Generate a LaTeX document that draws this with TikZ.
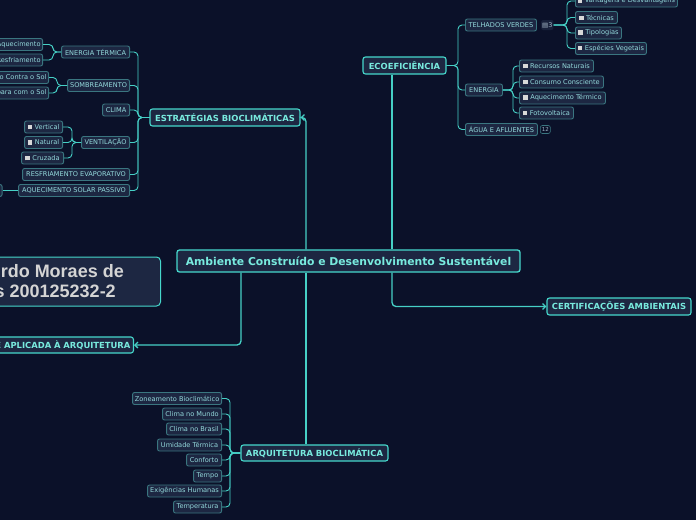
\documentclass[tikz,border=0pt]{standalone}
\usepackage{fontspec}
\setmainfont{DejaVu Sans}
\newfontfamily\authorfont{Liberation Sans}
\usetikzlibrary{arrows.meta,calc}
\definecolor{bg}{HTML}{0B1129}
\definecolor{nfill}{HTML}{1D2742}
\definecolor{mainline}{HTML}{46D8CC}
\definecolor{maintext}{HTML}{78EADE}
\definecolor{subline}{HTML}{3A7680}
\definecolor{subtext}{HTML}{94DADC}
\definecolor{conn}{HTML}{46D0C6}
\definecolor{chk}{HTML}{D8D8D8}
\definecolor{authortext}{HTML}{D4D4D4}
\definecolor{badgefill}{HTML}{18213A}
\definecolor{badgetext}{HTML}{9FB6C8}
\newcommand{\chkbox}{\textcolor{chk}{\rule{4.5pt}{4.5pt}}\hspace{2.5pt}}
\begin{document}
\begin{tikzpicture}[x=1pt,y=-1pt,
 mainbox/.style={draw=mainline, fill=nfill, line width=1.1pt, rounded corners=2.5pt, text=maintext, font=\bfseries\fontsize{8.4}{9.5}\selectfont, inner sep=0pt, minimum height=17pt},
 subbox/.style={draw=subline, fill=nfill, line width=0.9pt, rounded corners=2pt, text=subtext, font=\fontsize{6.6}{7.5}\selectfont, inner sep=0pt, minimum height=12pt},
 clipleaf/.style={subbox, anchor=east, align=right, text width=#1, inner xsep=2pt},
 mainconn/.style={draw=conn, line width=1.3pt, rounded corners=4pt},
 arrowconn/.style={mainconn, -{Straight Barb[length=3pt,width=6pt]}},
 treeconn/.style={draw=conn, line width=0.9pt, rounded corners=4pt},
 badge/.style={fill=badgefill, rounded corners=2pt, text=badgetext, font=\fontsize{6.5}{7.5}\selectfont, inner sep=1pt, minimum height=10pt},
]
\useasboundingbox (0,0) rectangle (696,520);
\fill[bg] (0,0) rectangle (696,520);
\clip (0,0) rectangle (696,520);

% ---------- main nodes ----------
\node[mainbox, minimum width=343pt, minimum height=22pt, line width=1.3pt, font=\bfseries\fontsize{10.8}{12}\selectfont] (root) at (348.5,261) {Ambiente Construído e Desenvolvimento Sustentável};
\node[mainbox, minimum width=150pt] (estr) at (225,117.5) {ESTRATÉGIAS BIOCLIMÁTICAS};
\node[mainbox, minimum width=83pt] (eco) at (404.5,65.5) {ECOEFICIÊNCIA};
\node[mainbox, minimum width=144pt] (cert) at (619,306.5) {CERTIFICAÇÕES AMBIENTAIS};
\node[mainbox, minimum height=16pt, anchor=east, align=right, text width=160pt, inner xsep=3pt] (aplic) at (134,345) {E APLICADA À ARQUITETURA};
\node[mainbox, minimum width=147pt, minimum height=16pt] (arq) at (314.5,453) {ARQUITETURA BIOCLIMÁTICA};

% author box
\node[draw=mainline, fill=nfill, rounded corners=4pt, line width=1pt, minimum width=180pt, minimum height=49pt, inner sep=0pt, anchor=east] (author) at (161,281.5) {};
\node[anchor=base east, text=authortext, font=\authorfont\bfseries\fontsize{18}{20}\selectfont, inner sep=0pt] (authorA) at (124,277.5) {rdo Moraes de};
\node[anchor=base east, text=authortext, font=\authorfont\bfseries\fontsize{18}{20}\selectfont, inner sep=0pt] (authorB) at (116,297) {s 200125232-2};

% ---------- main connectors ----------
\coordinate (xA) at (306,0);
\coordinate (xB) at (392,0);
\coordinate (xC) at (241,0);
\draw[arrowconn] (root.north -| xA) |- (estr.east);
\draw[mainconn] (root.south -| xA) -- (arq.north -| xA);
\draw[mainconn] (root.north -| xB) -- (eco.south -| xB);
\draw[arrowconn] (root.south -| xB) |- (cert.west);
\draw[arrowconn] (root.south -| xC) |- (aplic.east);

% ---------- ESTRATÉGIAS subtree ----------
\node[subbox, anchor=east, minimum width=68pt] (et) at (130,52) {ENERGIA TÉRMICA};
\node[subbox, anchor=east, minimum width=62pt] (somb) at (130,85.5) {SOMBREAMENTO};
\node[subbox, anchor=east, minimum width=27pt] (clima) at (130,110) {CLIMA};
\node[subbox, anchor=east, minimum width=48pt] (vent) at (130,142.5) {VENTILAÇÃO};
\node[subbox, anchor=east, minimum width=107pt] (resf) at (130,174.5) {RESFRIAMENTO EVAPORATIVO};
\node[subbox, anchor=east, minimum width=111pt] (aqsp) at (130,190.5) {AQUECIMENTO SOLAR PASSIVO};
\coordinate (tL) at (138,117.5);
\foreach \n in {et,somb,clima,vent,resf,aqsp} \draw[treeconn] (estr.west) -- (tL) |- (\n.east);

\node[clipleaf=60pt] (aq) at (43,44.5) {Aquecimento};
\node[clipleaf=60pt] (rf) at (43,60) {Resfriamento};
\coordinate (tET) at (53,52);
\foreach \n in {aq,rf} \draw[treeconn] (et.west) -- (tET) |- (\n.east);

\node[clipleaf=70pt] (pcs) at (49,77.5) {o Contra o Sol};
\node[clipleaf=70pt] (pps) at (49,93) {para com o Sol};
\coordinate (tSO) at (57,85.5);
\foreach \n in {pcs,pps} \draw[treeconn] (somb.west) -- (tSO) |- (\n.east);

\node[subbox, anchor=east, minimum width=38pt] (vert) at (63,127) {\chkbox Vertical};
\node[subbox, anchor=east, minimum width=38pt] (nat) at (63,142.5) {\chkbox Natural};
\node[subbox, anchor=east, minimum width=42pt] (cruz) at (64,158) {\chkbox Cruzada};
\coordinate (tV) at (72,142.5);
\foreach \n in {vert,nat,cruz} \draw[treeconn] (vent.west) -- (tV) |- (\n.east);

\node[subbox, anchor=east, minimum width=60pt] (aqspc) at (2.5,190.5) {};
\draw[treeconn] (aqsp.west) -- (aqspc.east);

% ---------- ECOEFICIÊNCIA subtree ----------
\node[subbox, anchor=west, minimum width=71pt] (tel) at (465,25) {TELHADOS VERDES};
\node[badge, anchor=west] (telb) at (541,25) {\textcolor{badgetext!80}{▤}3};
\node[subbox, anchor=west, minimum width=37pt] (ene) at (465,90) {ENERGIA};
\node[subbox, anchor=west, minimum width=72pt] (agua) at (465,129.5) {ÁGUA E AFLUENTES};
\node[badge, anchor=west, draw=subline, line width=0.6pt, fill=bg, inner sep=1.5pt, minimum height=8pt, font=\fontsize{5.5}{6}\selectfont] (aguab) at (540,129.5) {12};
\coordinate (tE) at (458,65.5);
\foreach \n in {tel,ene,agua} \draw[treeconn] (eco.east) -- (tE) |- (\n.west);

\node[subbox, anchor=west, minimum width=102pt] (vant) at (575,1) {\chkbox Vantagens e Desvantagens};
\node[subbox, anchor=west, minimum width=42pt] (tec) at (575,17.5) {\chkbox Técnicas};
\node[subbox, anchor=west, minimum width=46pt] (tip) at (575,33) {\chkbox Tipologias};
\node[subbox, anchor=west, minimum width=71pt] (esp) at (575,48.5) {\chkbox Espécies Vegetais};
\coordinate (tT) at (567,25);
\foreach \n in {vant,tec,tip,esp} \draw[treeconn] (telb.east) -- (tT) |- (\n.west);

\node[subbox, anchor=west, minimum width=74pt] (rec) at (519,66) {\chkbox Recursos Naturais};
\node[subbox, anchor=west, minimum width=84pt] (cons) at (519,82) {\chkbox Consumo Consciente};
\node[subbox, anchor=west, minimum width=86pt] (aqt) at (519,98) {\chkbox Aquecimento Térmico};
\node[subbox, anchor=west, minimum width=54pt] (foto) at (519,113) {\chkbox Fotovoltaica};
\coordinate (tN) at (513,90);
\foreach \n in {rec,cons,aqt,foto} \draw[treeconn] (ene.east) -- (tN) |- (\n.west);

% ---------- ARQUITETURA BIOCLIMÁTICA subtree ----------
\node[subbox, anchor=east, minimum width=89pt] (zon) at (222,398.5) {Zoneamento Bioclimático};
\node[subbox, anchor=east, minimum width=59pt] (cmu) at (222,414) {Clima no Mundo};
\node[subbox, anchor=east, minimum width=55pt] (cbr) at (222,429) {Clima no Brasil};
\node[subbox, anchor=east, minimum width=64pt] (umi) at (222,445) {Umidade Térmica};
\node[subbox, anchor=east, minimum width=35pt] (conf) at (222,460) {Conforto};
\node[subbox, anchor=east, minimum width=28pt] (tempo) at (222,476) {Tempo};
\node[subbox, anchor=east, minimum width=74pt] (exi) at (222,491) {Exigências Humanas};
\node[subbox, anchor=east, minimum width=48pt] (temp) at (222,507) {Temperatura};
\coordinate (tB) at (230,453);
\foreach \n in {zon,cmu,cbr,umi,conf,tempo,exi,temp} \draw[treeconn] (arq.west) -- (tB) |- (\n.east);
\end{tikzpicture}
\end{document}
